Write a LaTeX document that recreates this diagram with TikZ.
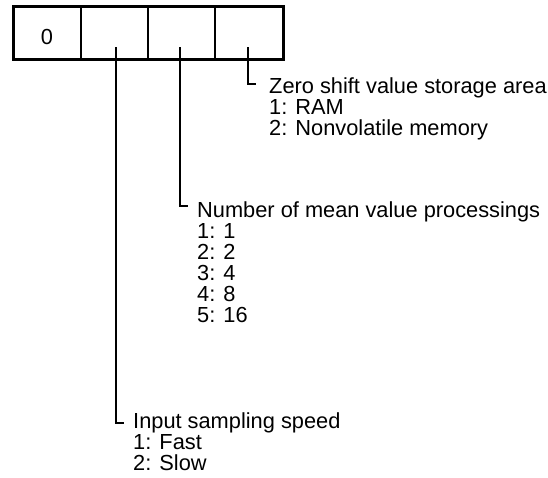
\documentclass[tikz,border=0pt]{standalone}
\usepackage{fontspec}
\setmainfont{Liberation Sans}
\begin{document}
\begin{tikzpicture}[x=1pt,y=-1pt,
  outer/.style={draw=black,line width=3pt},
  divider/.style={draw=black,line width=1.5pt},
  leader/.style={draw=black,line width=1.5pt},
  label/.style={anchor=base west,align=left,inner sep=0pt,
    font=\fontsize{21.8pt}{21pt}\selectfont,text=black},
  digit/.style={anchor=base,inner sep=0pt,font=\fontsize{21.8pt}{21pt}\selectfont}]
\useasboundingbox (0,0) rectangle (548,477);
% register box
\draw[outer] (13,6.5) rectangle (283.5,59);
\draw[divider] (81,6.5) -- (81,59);
\draw[divider] (148,6.5) -- (148,59);
\draw[divider] (215,6.5) -- (215,59);
\node[digit] (zero) at (47,44.5) {0};
% leader start points and ends
\coordinate (s1) at (116,47);
\coordinate (s2) at (180,47);
\coordinate (s3) at (248,47);
\coordinate (e1) at (124,423);
\coordinate (e2) at (188,206);
\coordinate (e3) at (256,84);
\draw[leader] (s1) |- (e1);
\draw[leader] (s2) |- (e2);
\draw[leader] (s3) |- (e3);
% labels (anchored at the baseline of their last line)
\node[label] (l3) at (269,135) {Zero shift value storage area\\1: RAM\\2: Nonvolatile memory};
\node[label] (l2) at (197,322) {Number of mean value processings\\1: 1\\2: 2\\3: 4\\4: 8\\5: 16};
\node[label] (l1) at (133,470) {Input sampling speed\\1: Fast\\2: Slow};
\end{tikzpicture}
\end{document}
